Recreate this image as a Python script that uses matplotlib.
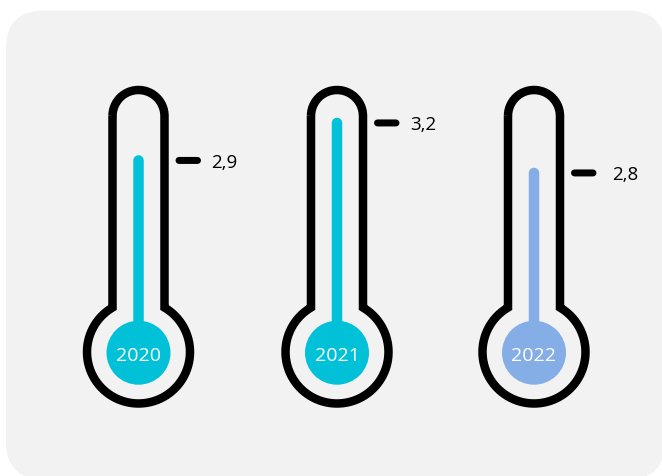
import numpy as np
import matplotlib
matplotlib.use("Agg")
import matplotlib.pyplot as plt
from matplotlib.path import Path
from matplotlib.patches import PathPatch, FancyBboxPatch, Circle

years = ["2020", "2021", "2022"]
values = [2.9, 3.2, 2.8]
value_labels = ["2,9", "3,2", "2,8"]
colors = ["#00C1D8", "#00C1D8", "#85ADE6"]

W, H = 662, 477
DPI = 100
PX = 72 / DPI
fig = plt.figure(figsize=(W / DPI, H / DPI), dpi=DPI, facecolor="white")
ax = fig.add_axes([0, 0, 1, 1])
ax.set_xlim(0, W)
ax.set_ylim(H, 0)
ax.axis("off")

# value axis overlaying the page: 125 px per unit
val = fig.add_axes([0, 0, 1, 1])
val.set_xlim(0, W)
val.set_ylim(0.3755, 4.1915)
val.patch.set_alpha(0)
val.axis("off")

ax.add_patch(FancyBboxPatch((6 + 38, 11.5 + 38), 659 - 76, 469 - 76,
                            boxstyle="round,pad=38,rounding_size=38",
                            fc="#F2F2F2", ec="none", zorder=0))

centers = [138.5, 337, 534]
half_w = 26
top_y, bulb_y, bulb_r = 117, 353, 51.5
base_value = 1.55


def outline(cx):
    t = np.linspace(np.pi, 2 * np.pi, 60)
    top = np.c_[cx + half_w * np.cos(t), top_y + half_w * np.sin(t)]
    a0 = np.arcsin(half_w / bulb_r)
    t2 = np.linspace(-np.pi / 2 + a0, 3 * np.pi / 2 - a0, 160)
    bulb = np.c_[cx + bulb_r * np.cos(t2), bulb_y + bulb_r * np.sin(t2)]
    return Path(np.vstack([top, bulb, top[:1]]))


label_dx = [85.5, 86.5, 91]
for cx, yr, v, lab, c, dx in zip(centers, years, values, value_labels, colors, label_dx):
    ax.add_patch(PathPatch(outline(cx), fc="none", ec="black", lw=8.5 * PX,
                           joinstyle="miter", zorder=2))
    ax.add_patch(Circle((cx, 353.7), 32, fc=c, ec="none", zorder=1))
    val.plot([cx, cx], [base_value, v], color=c, lw=10.5 * PX,
             solid_capstyle="round", zorder=3, snap=False)
    val.plot([cx + 40.5, cx + 59], [v, v], color="black", lw=7 * PX,
             solid_capstyle="round", zorder=3, snap=False)
    val.annotate(lab, (cx + dx, v), xytext=(0, -1), textcoords="offset points",
                 family="Open Sans", fontsize=13.5, color="black",
                 ha="center", va="center", zorder=4)
    val.text(cx, 356, yr, family="Open Sans", fontsize=14, color="white",
             ha="center", va="center", zorder=6, transform=ax.transData)

val.set_zorder(ax.get_zorder() + 1)

fig.savefig("out.png", dpi=DPI)
